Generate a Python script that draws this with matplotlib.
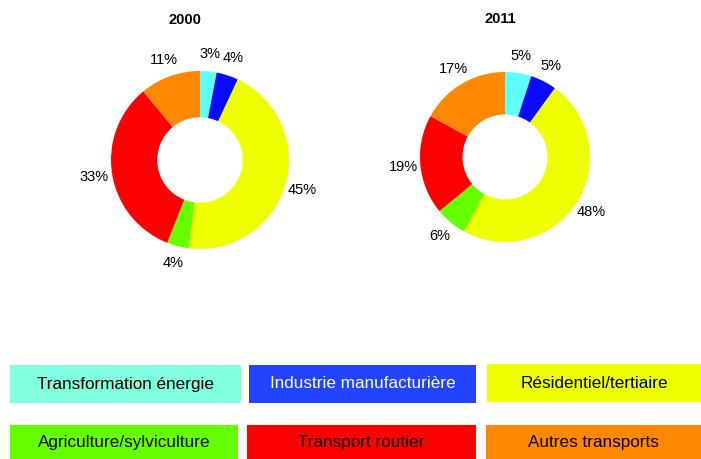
import matplotlib.pyplot as plt
from matplotlib.patches import Rectangle

plt.rcParams['font.family'] = ['Liberation Sans', 'DejaVu Sans']

categories = ["Transformation énergie", "Industrie manufacturière", "Résidentiel/tertiaire",
              "Agriculture/sylviculture", "Transport routier", "Autres transports"]
values_2000 = [3, 4, 45, 4, 33, 11]
values_2011 = [5, 5, 48, 6, 19, 17]
pie_colors = ["#5fffff", "#0a0aff", "#eeff00", "#66ff00", "#ff0000", "#ff8800"]
legend_colors = ["#7fffdf", "#2244ff", "#eeff00", "#66ff00", "#ff0000", "#ff8800"]
legend_text_colors = ["black", "white", "black", "black", "black", "black"]

W, H = 701, 459
fig = plt.figure(figsize=(W / 100, H / 100), dpi=100)


def donut(values, title, cx, cy, r, ring, title_x, title_y):
    ax = fig.add_axes([(cx - r) / W, 1 - (cy + r) / H, 2 * r / W, 2 * r / H])
    wedges, texts = ax.pie(values, colors=pie_colors, startangle=90, counterclock=False,
                           labels=[f"{v}%" for v in values], labeldistance=1.2,
                           textprops={'fontsize': 10.5},
                           wedgeprops={'width': ring, 'linewidth': 0})
    for t in texts:
        t.set_ha('center')
        t.set_va('center')
    ax.set_xlim(-1, 1)
    ax.set_ylim(-1, 1)
    ax.set_aspect('equal')
    ax.axis('off')
    fig.text(title_x / W, 1 - title_y / H, title, ha='center', va='center',
             fontsize=10.5, fontweight='bold')


donut(values_2000, "2000", 200, 160, 89, 0.52, 185, 20)
donut(values_2011, "2011", 505, 157, 85, 0.5, 500, 19)

# legend boxes (pixel layout)
boxes = [(10, 365, 231, 38), (249, 365, 227, 38), (487, 364, 214, 38),
         (10, 425, 228, 34), (247, 425, 229, 34), (486, 425, 215, 34)]
for (x, y, w, h), name, col, tcol in zip(boxes, categories, legend_colors, legend_text_colors):
    fig.patches.append(Rectangle((x / W, 1 - (y + h) / H), w / W, h / H,
                                 transform=fig.transFigure, facecolor=col,
                                 edgecolor='none'))
    fig.text((x + w / 2) / W, 1 - (y + h / 2) / H, name, ha='center', va='center',
             fontsize=12.3, color=tcol)

fig.savefig("out.png", dpi=100)
